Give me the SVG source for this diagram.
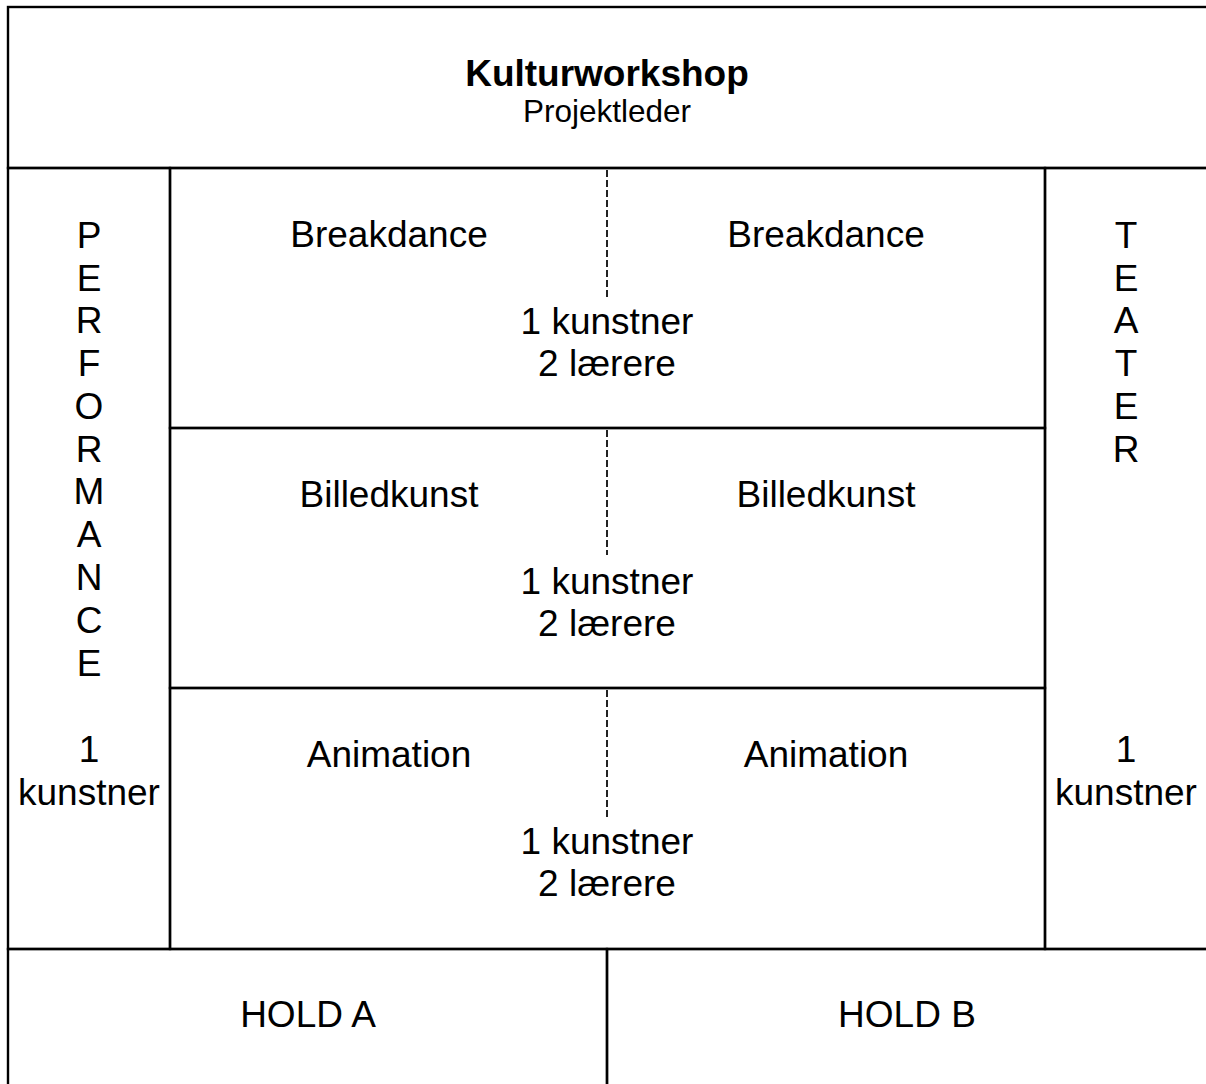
<svg xmlns="http://www.w3.org/2000/svg" width="1206" height="1084" viewBox="0 0 1206 1084">
<style>
.box{fill:none;stroke:#000;stroke-width:2.4}
.dash{stroke:#222;stroke-width:2;stroke-dasharray:7 3;fill:none}
text{font-family:"Liberation Sans",Arial,sans-serif;fill:#000;text-anchor:middle}
.t{font-size:37px}
.h{font-size:37px;font-weight:bold}
.s{font-size:31.5px}
</style>
<rect width="1206" height="1084" fill="#fff"/>
<g id="header">
<rect class="box" x="8" y="7" width="1203" height="161"/>
<text class="h" x="607" y="86">Kulturworkshop</text>
<text class="s" x="607" y="122">Projektleder</text>
</g>
<g id="performance">
<rect class="box" x="8" y="168" width="162" height="781"/>
<text class="t" x="89" y="248">P</text>
<text class="t" x="89" y="291">E</text>
<text class="t" x="89" y="333">R</text>
<text class="t" x="89" y="376">F</text>
<text class="t" x="89" y="419">O</text>
<text class="t" x="89" y="462">R</text>
<text class="t" x="89" y="504">M</text>
<text class="t" x="89" y="547">A</text>
<text class="t" x="89" y="590">N</text>
<text class="t" x="89" y="633">C</text>
<text class="t" x="89" y="676">E</text>
<text class="t" x="89" y="762">1</text>
<text class="t" x="89" y="805">kunstner</text>
</g>
<g id="teater">
<rect class="box" x="1045" y="168" width="166" height="781"/>
<text class="t" x="1126" y="248">T</text>
<text class="t" x="1126" y="291">E</text>
<text class="t" x="1126" y="333">A</text>
<text class="t" x="1126" y="376">T</text>
<text class="t" x="1126" y="419">E</text>
<text class="t" x="1126" y="462">R</text>
<text class="t" x="1126" y="762">1</text>
<text class="t" x="1126" y="805">kunstner</text>
</g>
<g id="breakdance">
<rect class="box" x="170" y="168" width="875" height="260"/>
<text class="t" x="389" y="247">Breakdance</text>
<text class="t" x="826" y="247">Breakdance</text>
<text class="t" x="607" y="334">1 kunstner</text>
<text class="t" x="607" y="376">2 lærere</text>
</g>
<g id="billedkunst">
<rect class="box" x="170" y="428" width="875" height="260"/>
<text class="t" x="389" y="507">Billedkunst</text>
<text class="t" x="826" y="507">Billedkunst</text>
<text class="t" x="607" y="594">1 kunstner</text>
<text class="t" x="607" y="636">2 lærere</text>
</g>
<g id="animation">
<rect class="box" x="170" y="688" width="875" height="261"/>
<text class="t" x="389" y="767">Animation</text>
<text class="t" x="826" y="767">Animation</text>
<text class="t" x="607" y="854">1 kunstner</text>
<text class="t" x="607" y="896">2 lærere</text>
</g>
<g id="hold-a">
<rect class="box" x="8" y="949" width="599" height="145"/>
<text class="t" x="308" y="1027">HOLD A</text>
</g>
<g id="hold-b">
<rect class="box" x="607" y="949" width="604" height="145"/>
<text class="t" x="907" y="1027">HOLD B</text>
</g>
<g id="connectors">
<line class="dash" x1="607" y1="170" x2="607" y2="298"/>
<line class="dash" x1="607" y1="430" x2="607" y2="555"/>
<line class="dash" x1="607" y1="690" x2="607" y2="818"/>
</g>
</svg>
